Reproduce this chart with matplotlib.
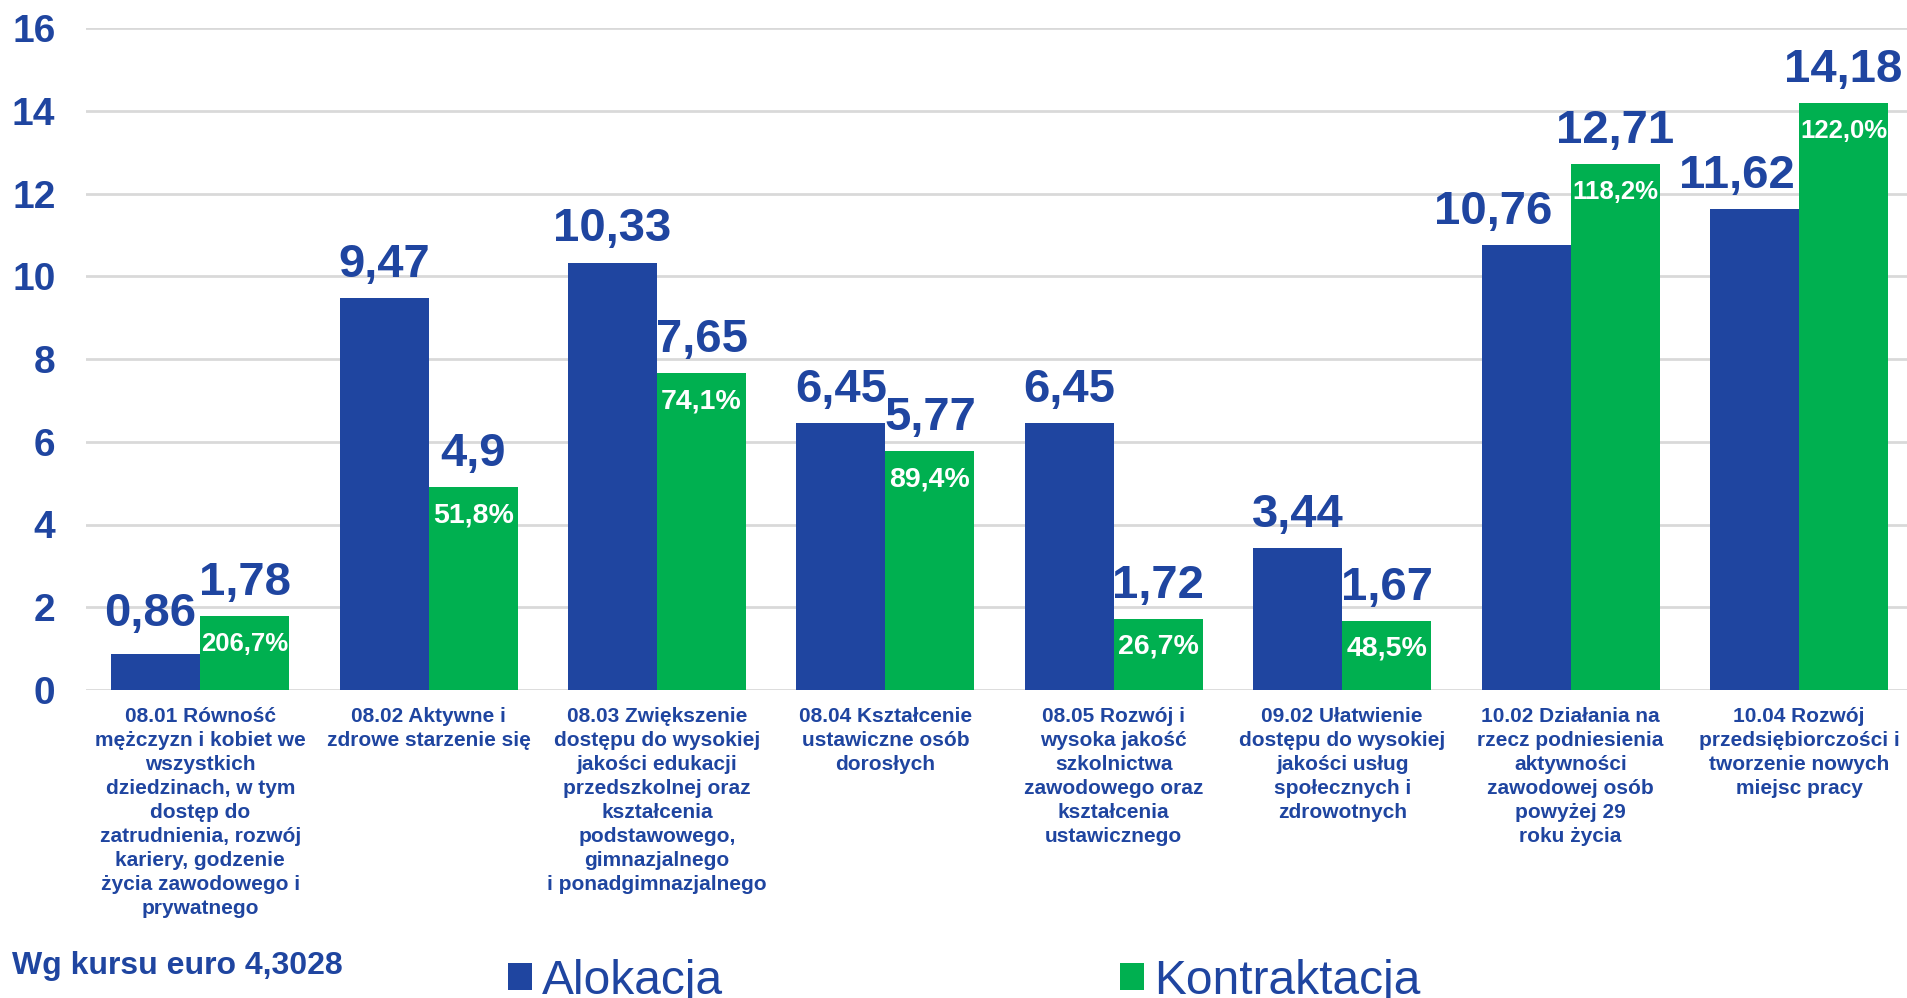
import matplotlib
matplotlib.use("Agg")
import matplotlib.pyplot as plt
import numpy as np

plt.rcParams['font.family'] = ['Liberation Sans', 'DejaVu Sans']

categories = [
    "08.01 Równość\nmężczyzn i kobiet we\nwszystkich\ndziedzinach, w tym\ndostęp do\nzatrudnienia, rozwój\nkariery, godzenie\nżycia zawodowego i\nprywatnego",
    "08.02 Aktywne i\nzdrowe starzenie się",
    "08.03 Zwiększenie\ndostępu do wysokiej\njakości edukacji\nprzedszkolnej oraz\nkształcenia\npodstawowego,\ngimnazjalnego\ni ponadgimnazjalnego",
    "08.04 Kształcenie\nustawiczne osób\ndorosłych",
    "08.05 Rozwój i\nwysoka jakość\nszkolnictwa\nzawodowego oraz\nkształcenia\nustawicznego",
    "09.02 Ułatwienie\ndostępu do wysokiej\njakości usług\nspołecznych i\nzdrowotnych",
    "10.02 Działania na\nrzecz podniesienia\naktywności\nzawodowej osób\npowyżej 29\nroku życia",
    "10.04 Rozwój\nprzedsiębiorczości i\ntworzenie nowych\nmiejsc pracy",
]
alokacja = [0.86, 9.47, 10.33, 6.45, 6.45, 3.44, 10.76, 11.62]
kontraktacja = [1.78, 4.90, 7.65, 5.77, 1.72, 1.67, 12.71, 14.18]
alokacja_labels = ["0,86", "9,47", "10,33", "6,45", "6,45", "3,44", "10,76", "11,62"]
kontraktacja_labels = ["1,78", "4,9", "7,65", "5,77", "1,72", "1,67", "12,71", "14,18"]
percent_labels = ["206,7%", "51,8%", "74,1%", "89,4%", "26,7%", "48,5%", "118,2%", "122,0%"]
yticks = [0, 2, 4, 6, 8, 10, 12, 14, 16]
series_names = ["Alokacja", "Kontraktacja"]
footnote = "Wg kursu euro 4,3028"

BLUE = "#1F45A0"
GREEN = "#00B050"
GRID = "#D9D9D9"

W, H = 1907, 998
fig = plt.figure(figsize=(W / 100, H / 100), dpi=100)
fig.patch.set_facecolor("white")

ax_left, ax_right, ax_bottom, ax_top = 86, 86 + 8 * 228.4, 690, 28
ax = fig.add_axes([ax_left / W, 1 - ax_bottom / H, (ax_right - ax_left) / W, (ax_bottom - ax_top) / H])

x = np.arange(len(categories))
w = 0.39
b1 = ax.bar(x - w / 2, alokacja, w, color=BLUE, label=series_names[0], zorder=3)
b2 = ax.bar(x + w / 2, kontraktacja, w, color=GREEN, label=series_names[1], zorder=3)

ax.set_xlim(-0.5, 7.5)
ax.set_ylim(0, 16)
ax.set_yticks(yticks)
ax.set_yticklabels([str(t) for t in yticks])
ax.yaxis.grid(True, color=GRID, lw=2, zorder=0)
ax.set_axisbelow(True)
for s in ax.spines.values():
    s.set_visible(False)
ax.tick_params(axis='y', length=0, pad=22, labelsize=28, labelcolor=BLUE)
for lab in ax.get_yticklabels():
    lab.set_fontweight('bold')
ax.set_xticks(x)
ax.set_xticklabels(categories, fontsize=15, fontweight='bold', color=BLUE, linespacing=1.34)
ax.tick_params(axis='x', length=0, pad=12)

# value labels
blue_nudge_x = [-4, 0, 0, 0, 0, 0, -24, -13]
blue_nudge_y = [13, 8, 8, 8, 8, 8, 8, 8]
for i in range(len(x)):
    ax.annotate(alokacja_labels[i], (x[i] - w / 2, alokacja[i]), xytext=(blue_nudge_x[i], blue_nudge_y[i]),
                textcoords='offset points', ha='center', va='bottom',
                fontsize=34, fontweight='bold', color=BLUE, zorder=5)
    ax.annotate(kontraktacja_labels[i], (x[i] + w / 2, kontraktacja[i]), xytext=(0, 8),
                textcoords='offset points', ha='center', va='bottom',
                fontsize=34, fontweight='bold', color=BLUE, zorder=5)
    fs = 20.5 if len(percent_labels[i]) <= 5 else 18.5
    ax.annotate(percent_labels[i], (x[i] + w / 2, kontraktacja[i]), xytext=(0, -20),
                textcoords='offset points', ha='center', va='center',
                fontsize=fs, fontweight='bold', color='white', zorder=5)

fig.text(12 / W, 1 - 966 / H, footnote, fontsize=23, fontweight='bold', color=BLUE,
         ha='left', va='center')

leg = fig.legend(handles=[b1, b2], labels=series_names, loc='center left',
                 bbox_to_anchor=(508 / W, 1 - 981 / H), ncol=2, frameon=False,
                 fontsize=34.5, handlelength=0.5, handleheight=0.5, handletextpad=0.2,
                 columnspacing=8.3, borderpad=0, borderaxespad=0)
for t in leg.get_texts():
    t.set_color(BLUE)

fig.savefig("out.png", dpi=100, facecolor="white")
